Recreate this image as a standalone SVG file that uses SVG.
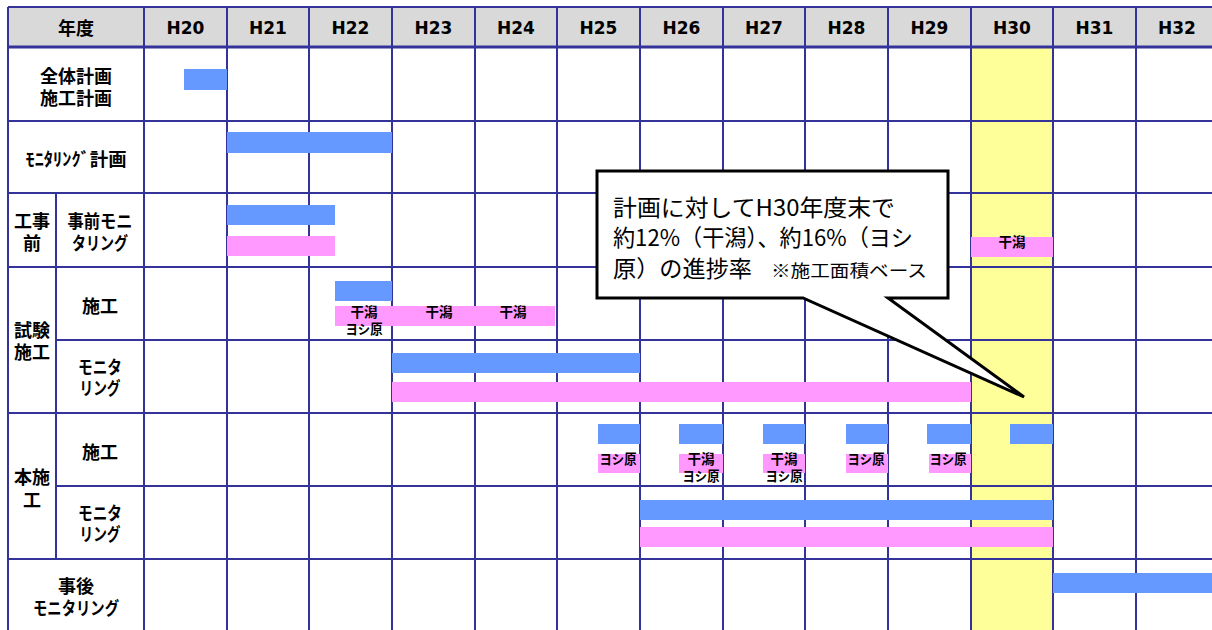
<svg xmlns="http://www.w3.org/2000/svg" width="1212" height="630" viewBox="0 0 1212 630">
<style>
.g{stroke:#333399;stroke-width:2;fill:none}
.gt{stroke:#333399;stroke-width:3;fill:none}
.b{fill:#6699FF}
.p{fill:#FF99FF}
.yr{font-family:"DejaVu Sans",Verdana,sans-serif;font-weight:bold;font-size:17px;fill:#000;text-anchor:middle;dominant-baseline:central}
.lb{font-family:"Noto Sans CJK JP","Noto Sans",sans-serif;font-weight:bold;font-size:18px;fill:#000;text-anchor:middle;dominant-baseline:central}
.sm{font-family:"Noto Sans CJK JP","Noto Sans",sans-serif;font-weight:bold;font-size:13.5px;fill:#000;text-anchor:middle;dominant-baseline:central}
.co{font-family:"Noto Sans CJK JP","Noto Sans",sans-serif;font-size:23px;fill:#000}
.cs{font-family:"Noto Sans CJK JP","Noto Sans",sans-serif;font-size:17px;fill:#000}
</style>
<rect x="0" y="0" width="1212" height="630" fill="#FFFFFF"/>
<g id="background">
<rect x="8" y="7" width="1204" height="40" fill="#D9D9D9"/>
<rect x="971" y="47" width="82" height="583" fill="#FFFF99"/>
</g>
<g id="grid">
<path class="g" d="M8,7H1212M8,121H1212M8,193H1212M8,267H1212M8,413H1212M8,559H1212M56,340H1212M56,486H1212"/>
<path class="gt" d="M8,47H1212"/>
<path class="g" d="M8,7V630M56,193V559M144,7V630M227,7V630M309,7V630M392,7V630M475,7V630M557,7V630M640,7V630M723,7V630M805,7V630M888,7V630M971,7V630M1053,7V630M1136,7V630"/>
</g>
<g id="header">
<text class="lb" x="76" y="27">年度</text>
<text class="yr" x="185.5" y="28">H20</text>
<text class="yr" x="268" y="28">H21</text>
<text class="yr" x="350.5" y="28">H22</text>
<text class="yr" x="433.5" y="28">H23</text>
<text class="yr" x="516" y="28">H24</text>
<text class="yr" x="598.5" y="28">H25</text>
<text class="yr" x="681.5" y="28">H26</text>
<text class="yr" x="764" y="28">H27</text>
<text class="yr" x="846.5" y="28">H28</text>
<text class="yr" x="929.5" y="28">H29</text>
<text class="yr" x="1012" y="28">H30</text>
<text class="yr" x="1094.5" y="28">H31</text>
<text class="yr" x="1177" y="28">H32</text>
</g>
<g id="row-zentai">
<text class="lb"><tspan x="76" y="75">全体計画</tspan><tspan x="76" y="97">施工計画</tspan></text>
<rect class="b" x="184" y="69" width="43" height="21"/>
</g>
<g id="row-monitoring-plan">
<text class="lb" x="76" y="158" textLength="101" lengthAdjust="spacingAndGlyphs">ﾓﾆﾀﾘﾝｸﾞ計画</text>
<rect class="b" x="227" y="132" width="165" height="21"/>
</g>
<g id="row-jizen">
<text class="lb"><tspan x="32" y="220">工事</tspan><tspan x="32" y="242">前</tspan></text>
<text class="lb"><tspan x="100" y="220" textLength="65" lengthAdjust="spacingAndGlyphs">事前モニ</tspan><tspan x="100" y="242" textLength="56" lengthAdjust="spacingAndGlyphs">タリング</tspan></text>
<rect class="b" x="227" y="205" width="108" height="20"/>
<rect class="p" x="227" y="236" width="108" height="20"/>
<rect class="p" x="971" y="237" width="82" height="20"/>
<text class="sm" x="1012" y="241">干潟</text>
</g>
<g id="row-shiken">
<text class="lb"><tspan x="32" y="329">試験</tspan><tspan x="32" y="351">施工</tspan></text>
<text class="lb" x="100" y="305">施工</text>
<rect class="b" x="335" y="281" width="57" height="20"/>
<rect class="p" x="335" y="306" width="220" height="20"/>
<text class="sm"><tspan x="364" y="311">干潟</tspan><tspan x="364" y="328" textLength="37" lengthAdjust="spacingAndGlyphs">ヨシ原</tspan></text>
<text class="sm" x="439" y="311">干潟</text>
<text class="sm" x="513" y="311">干潟</text>
<text class="lb"><tspan x="100" y="366" textLength="44" lengthAdjust="spacingAndGlyphs">モニタ</tspan><tspan x="100" y="387" textLength="41" lengthAdjust="spacingAndGlyphs">リング</tspan></text>
<rect class="b" x="392" y="353" width="248" height="20"/>
<rect class="p" x="392" y="382" width="579" height="20"/>
</g>
<g id="row-honsekou">
<text class="lb"><tspan x="32" y="476">本施</tspan><tspan x="32" y="499">工</tspan></text>
<text class="lb" x="100" y="451">施工</text>
<rect class="b" x="598" y="424" width="42" height="20"/>
<rect class="b" x="679" y="424" width="44" height="20"/>
<rect class="b" x="763" y="424" width="42" height="20"/>
<rect class="b" x="846" y="424" width="42" height="20"/>
<rect class="b" x="927" y="424" width="44" height="20"/>
<rect class="b" x="1010" y="424" width="43" height="20"/>
<rect class="p" x="598" y="454" width="42" height="19"/>
<rect class="p" x="679" y="454" width="44" height="19"/>
<rect class="p" x="763" y="454" width="42" height="19"/>
<rect class="p" x="846" y="454" width="42" height="19"/>
<rect class="p" x="929" y="454" width="42" height="19"/>
<text class="sm" x="618" y="458" textLength="37" lengthAdjust="spacingAndGlyphs">ヨシ原</text>
<text class="sm"><tspan x="701" y="458">干潟</tspan><tspan x="701" y="475" textLength="37" lengthAdjust="spacingAndGlyphs">ヨシ原</tspan></text>
<text class="sm"><tspan x="784" y="458">干潟</tspan><tspan x="784" y="475" textLength="37" lengthAdjust="spacingAndGlyphs">ヨシ原</tspan></text>
<text class="sm" x="866" y="458" textLength="37" lengthAdjust="spacingAndGlyphs">ヨシ原</text>
<text class="sm" x="948" y="458" textLength="37" lengthAdjust="spacingAndGlyphs">ヨシ原</text>
<text class="lb"><tspan x="100" y="512" textLength="44" lengthAdjust="spacingAndGlyphs">モニタ</tspan><tspan x="100" y="533" textLength="41" lengthAdjust="spacingAndGlyphs">リング</tspan></text>
<rect class="b" x="640" y="500" width="413" height="20"/>
<rect class="p" x="640" y="527" width="413" height="20"/>
</g>
<g id="row-jigo">
<text class="lb"><tspan x="76" y="585">事後</tspan><tspan x="76" y="607" textLength="86" lengthAdjust="spacingAndGlyphs">モニタリング</tspan></text>
<rect class="b" x="1053" y="573" width="159" height="20"/>
</g>
<g id="callout">
<path d="M597,171H948V298H888L1024,397L803,298H597Z" fill="#FFFFFF" stroke="#000000" stroke-width="3" stroke-linejoin="miter"/>
<text class="co"><tspan x="613" y="216" textLength="282" lengthAdjust="spacingAndGlyphs">計画に対してH30年度末で</tspan><tspan x="613" y="246" textLength="300" lengthAdjust="spacingAndGlyphs">約12%（干潟）、約16%（ヨシ</tspan><tspan x="613" y="277" textLength="139" lengthAdjust="spacingAndGlyphs">原）の進捗率</tspan></text>
<text class="cs" x="771" y="277" textLength="156" lengthAdjust="spacingAndGlyphs">※施工面積ベース</text>
</g>
</svg>
